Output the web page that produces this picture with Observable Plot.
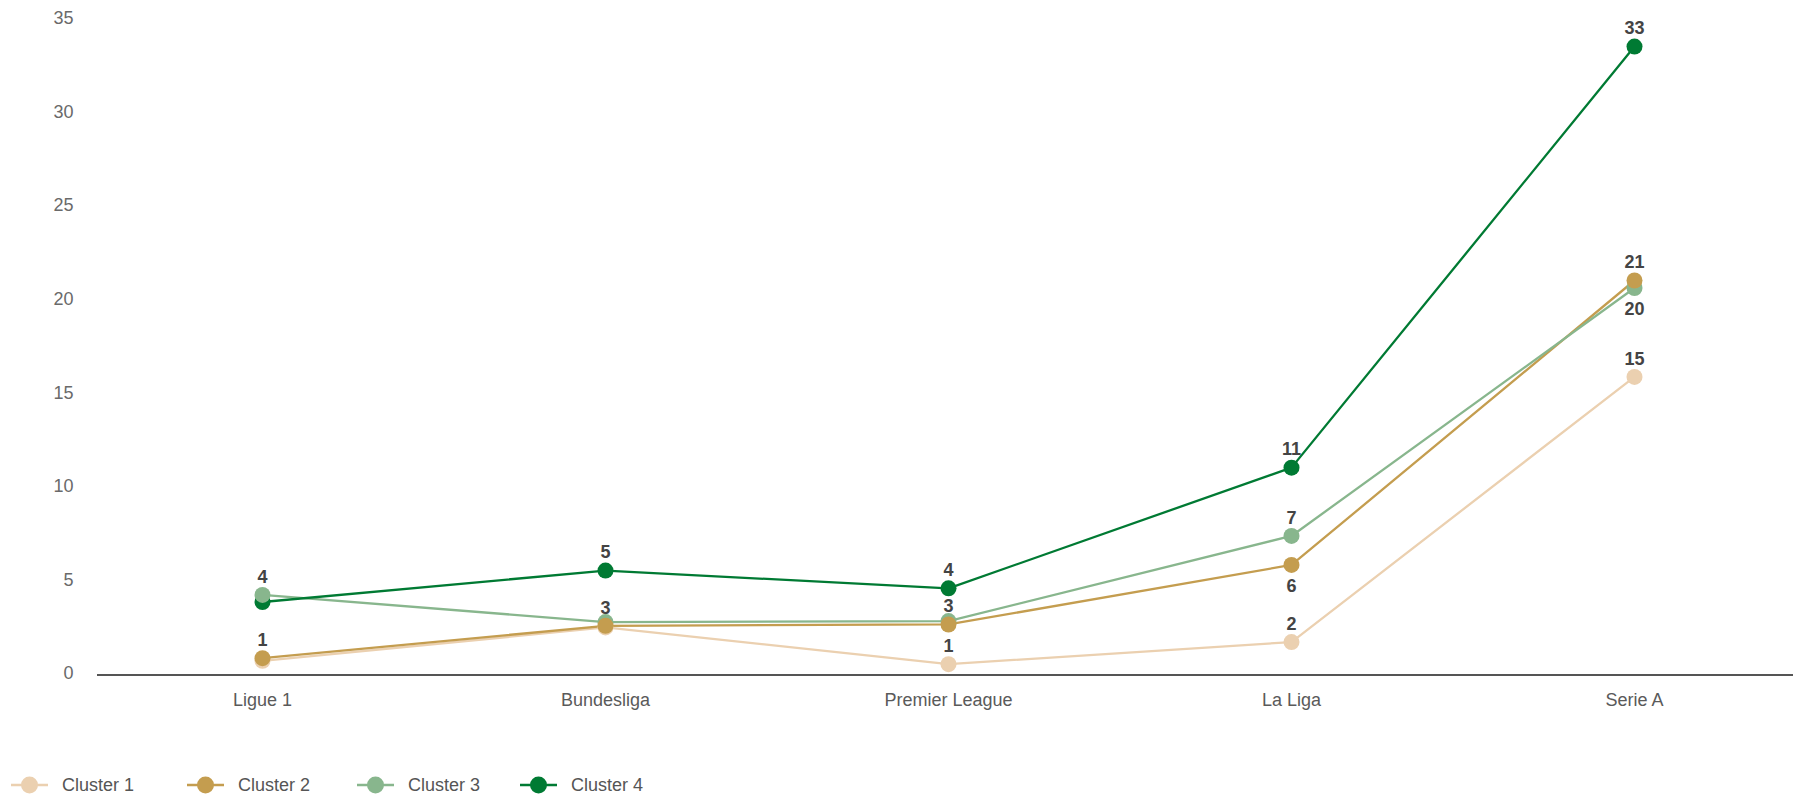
<!DOCTYPE html>
<html>
<head>
<meta charset="utf-8">
<script src="https://cdn.jsdelivr.net/npm/d3@7"></script>
<script src="https://cdn.jsdelivr.net/npm/@observablehq/plot@0.6"></script>
<style>
  html, body { margin: 0; padding: 0; background: #fff; overflow: hidden; }
  body { width: 1793px; height: 795px; position: relative; font-family: "Liberation Sans", Arial, sans-serif; }
  #chart svg { display: block; }
  #legend { position: absolute; left: 0; top: 770px; height: 30px; width: 800px; }
  .item { position: absolute; top: 0; height: 30px; display: flex; align-items: center; font-size: 18px; color: #555; }
  .item svg { margin-right: 14px; }
</style>
</head>
<body>
<div id="chart"></div>
<div id="legend"></div>
<script>
// ---- data ----
const leagues = ["Ligue 1", "Bundesliga", "Premier League", "La Liga", "Serie A"];
const clusters = ["Cluster 1", "Cluster 2", "Cluster 3", "Cluster 4"];
const colors = ["#ebd0b0", "#c49d4f", "#88b68d", "#007a33"];
const cluster1 = [0.68, 2.46, 0.5, 1.68, 15.85];
const cluster2 = [0.82, 2.55, 2.62, 5.8, 21.0];
const cluster3 = [4.2, 2.75, 2.8, 7.35, 20.6];
const cluster4 = [3.82, 5.5, 4.55, 11.0, 33.5];
const labels1 = ["", "", "1", "2", "15"];
const labels2 = ["1", "3", "3", "6", "21"];
const labels3 = ["4", "", "", "7", "20"];
const labels4 = ["", "5", "4", "11", "33"];
const yTicks = [0, 5, 10, 15, 20, 25, 30, 35];

// ---- table ----
const series = [cluster1, cluster2, cluster3, cluster4];
const labelSets = [labels1, labels2, labels3, labels4];
const rows = [];
series.forEach((vals, i) => {
  vals.forEach((v, j) => {
    rows.push({cluster: clusters[i], league: leagues[j], value: v, label: labelSets[i][j], order: i});
  });
});
const belowKeys = new Set(["Cluster 2|La Liga", "Cluster 3|Serie A"]);
const labelRows = rows.filter(d => d.label !== "");
const above = labelRows.filter(d => !belowKeys.has(d.cluster + "|" + d.league));
const below = labelRows.filter(d => belowKeys.has(d.cluster + "|" + d.league));
const dotOrder = ["Cluster 4", "Cluster 3", "Cluster 1", "Cluster 2"];
const dotRows = dotOrder.flatMap(c => rows.filter(d => d.cluster === c));

const chart = Plot.plot({
  width: 1793,
  height: 770,
  marginLeft: 97,
  marginRight: 0,
  marginTop: 18,
  marginBottom: 97,
  style: {fontFamily: "'Liberation Sans', Arial, sans-serif", background: "#fff"},
  x: {type: "point", domain: leagues, range: [261, 1635], padding: 0},
  y: {domain: [0, 35]},
  color: {domain: clusters, range: colors},
  marks: [
    Plot.axisY({ticks: yTicks, tickSize: 0, tickPadding: 24, fontSize: 18, color: "#6a6a6a", label: null}),
    Plot.axisX({tickSize: 0, tickPadding: 20, fontSize: 18, color: "#5a5a5a", label: null}),
    Plot.ruleY([0], {stroke: "#555", strokeWidth: 2, dy: 1.5}),
    Plot.line(rows, {x: "league", y: "value", z: "cluster", stroke: "cluster", strokeWidth: 2.3, sort: {channel: "order"}}),
    Plot.dot(dotRows, {x: "league", y: "value", fill: "cluster", r: 8}),
    Plot.text(above, {x: "league", y: "value", text: "label", dy: -18, fontSize: 18, fontWeight: "bold", fill: "#444"}),
    Plot.text(below, {x: "league", y: "value", text: "label", dy: 21, fontSize: 18, fontWeight: "bold", fill: "#444"})
  ]
});
document.getElementById("chart").appendChild(chart);

// ---- legend ----
const legend = document.getElementById("legend");
const lefts = [11, 187, 357, 520];
clusters.forEach((c, i) => {
  const item = document.createElement("div");
  item.className = "item";
  item.style.left = lefts[i] + "px";
  item.innerHTML = `<svg width="37" height="18"><line x1="0" y1="9" x2="37" y2="9" stroke="${colors[i]}" stroke-width="2.5"/><circle cx="18.5" cy="9" r="8.5" fill="${colors[i]}"/></svg><span>${c}</span>`;
  legend.appendChild(item);
});
</script>
</body>
</html>
